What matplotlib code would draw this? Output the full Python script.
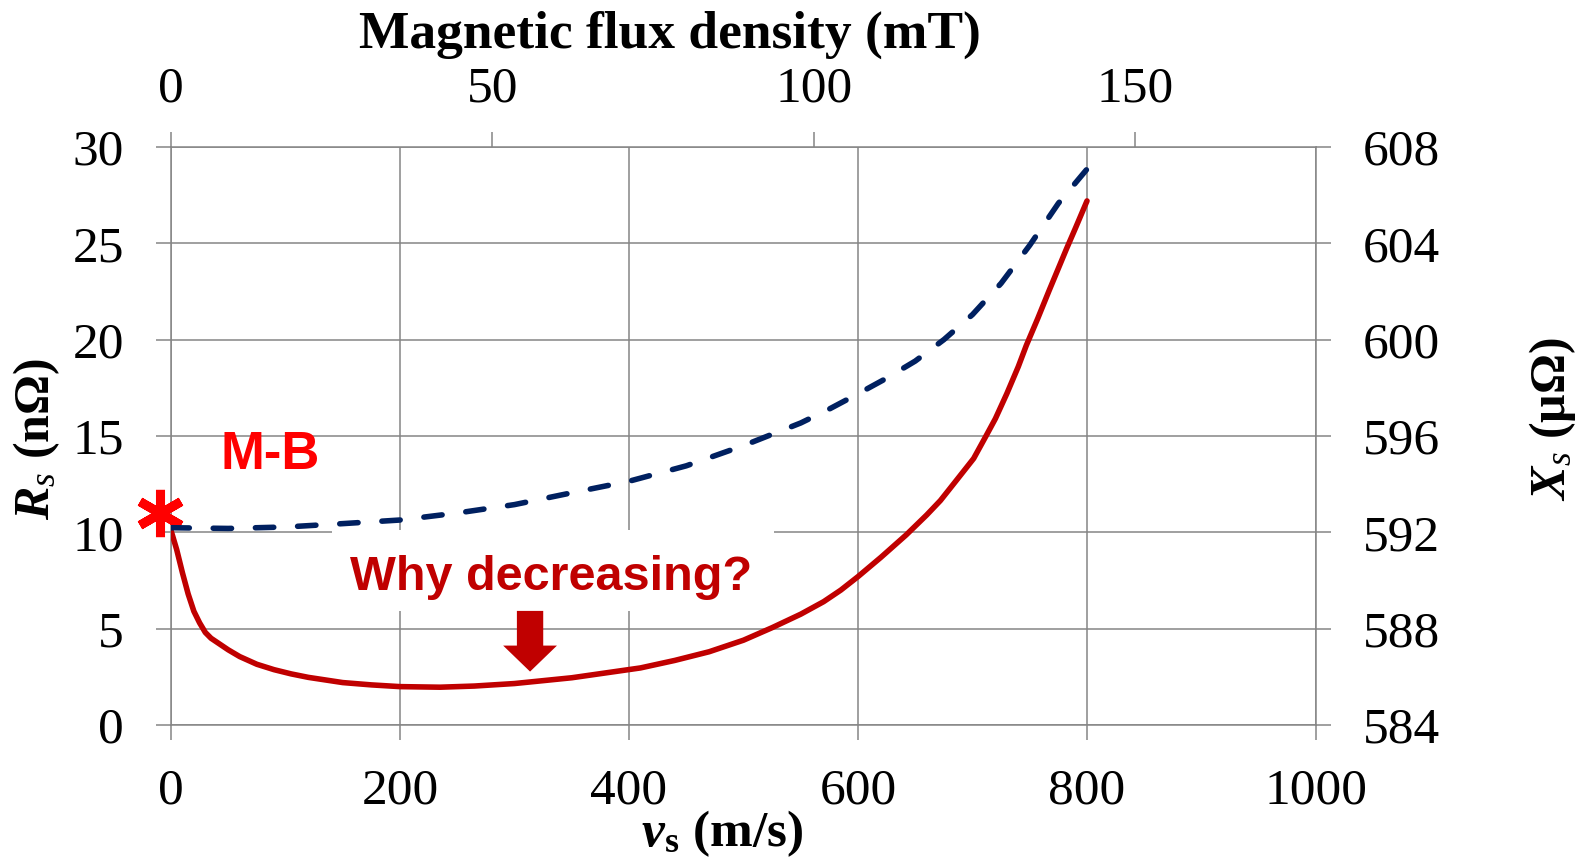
import matplotlib
matplotlib.use("Agg")
import matplotlib.pyplot as plt
from matplotlib.patches import Rectangle

plt.rcParams['font.family'] = ['Liberation Serif', 'DejaVu Serif']
plt.rcParams['mathtext.fontset'] = 'custom'
plt.rcParams['mathtext.rm'] = 'Liberation Serif'
plt.rcParams['mathtext.it'] = 'Liberation Serif:italic'
plt.rcParams['mathtext.bf'] = 'Liberation Serif:bold'
try:
    plt.rcParams['mathtext.bfit'] = 'Liberation Serif:italic:bold'
except KeyError:
    pass

# data
# Rs (nOhm) vs surface velocity v_s (m/s), red solid line
rs_v = [0, 5, 10, 15, 20, 25, 30, 35, 40, 50, 60, 75, 90, 105, 120, 150, 175,
        200, 235, 265, 300, 320, 350, 370, 410, 440, 470, 500, 525, 550, 570,
        585, 600, 620, 642, 660, 672, 686, 701, 712, 720, 730, 740, 747, 757,
        767, 775, 782, 790, 800]
rs_val = [10.1, 9.1, 7.9, 6.8, 5.9, 5.3, 4.8, 4.5, 4.3, 3.9, 3.55, 3.15, 2.87,
          2.65, 2.47, 2.2, 2.08, 1.99, 1.96, 2.02, 2.15, 2.27, 2.45, 2.62, 2.96,
          3.35, 3.8, 4.4, 5.05, 5.75, 6.4, 7.0, 7.7, 8.7, 9.86, 10.9, 11.65,
          12.7, 13.83, 15.02, 15.9, 17.2, 18.6, 19.7, 21.1, 22.56, 23.7, 24.7,
          25.8, 27.2]
# Xs (uOhm) vs v_s, blue dashed line
xs_v = [0, 50, 100, 150, 200, 250, 300, 350, 400, 450, 500, 550, 575, 600,
        625, 650, 675, 700, 725, 750, 775, 800]
xs_val = [592.19, 592.16, 592.22, 592.36, 592.51, 592.8, 593.15, 593.64,
          594.12, 594.76, 595.6, 596.54, 597.12, 597.75, 598.4, 599.11, 600.0,
          601.04, 602.34, 603.92, 605.66, 607.08]
# M-B reference point (asterisk)
mb_v, mb_rs = -10, 11.0

v_ticks = [0, 200, 400, 600, 800, 1000]
rs_ticks = [0, 5, 10, 15, 20, 25, 30]
xs_ticks = [584, 588, 592, 596, 600, 604, 608]
b_ticks = [0, 50, 100, 150]
b_per_v = 150 / 842.0   # mT per m/s on the top axis

GRAY = '#858585'
RED = '#C00000'
BLUE = '#002060'
FS = 37

fig = plt.figure(figsize=(15.89, 8.61), dpi=100)
ax = fig.add_axes([0.1076, 0.158, 0.7206, 0.6713])

ax.set_xlim(0, 1000)
ax.set_ylim(0, 30)
ax.set_xticks(v_ticks)
ax.set_yticks(rs_ticks)
ax.set_axisbelow(True)
ax.grid(True, color=GRAY, lw=1.1)
for s in ax.spines.values():
    s.set_color(GRAY)
    s.set_linewidth(1.1)
ax.tick_params(axis='x', direction='out', length=11, width=1.1, color=GRAY,
               labelsize=FS, pad=20)
ax.tick_params(axis='y', direction='out', length=11, width=1.1, color=GRAY,
               labelsize=FS, pad=23)

# white box behind the annotation
ax.add_patch(Rectangle((141, 5.92), 386, 4.18, fc='white', ec='none', zorder=1))

ax.plot(rs_v, rs_val, color=RED, lw=4.0, zorder=3, solid_capstyle='round',
        solid_joinstyle='round')
ax.plot([mb_v], [mb_rs], marker=(6, 2, 0), ms=34, mew=6.5, color='#FF0000',
        clip_on=False, zorder=5)

ax.text(86.5, 13.3, 'M-B', color='#FF0000', fontsize=38, fontweight='bold',
        family='Liberation Sans', ha='center', va='baseline')
ax.text(332, 7.0, 'Why decreasing?', color=RED, fontsize=35, fontweight='bold',
        family='Liberation Sans', ha='center', va='baseline', zorder=4)
ax.arrow(313.6, 5.92, 0, -3.15, width=23, head_width=47, head_length=1.35,
         length_includes_head=True, fc=RED, ec='none', zorder=4)

# right axis: Xs
ax2 = ax.twinx()
ax2.set_ylim(584, 608)
ax2.set_yticks(xs_ticks)
for s in ax2.spines.values():
    s.set_visible(False)
ax2.tick_params(axis='y', direction='out', length=11, width=1.1, color=GRAY,
                labelsize=FS, pad=23)
ax2.plot(xs_v, xs_val, color=BLUE, lw=4.0, dashes=(3.3, 4.3),
         dash_capstyle='round', zorder=3)

# top axis: magnetic flux density
ax3 = ax.twiny()
ax3.set_xlim(0, 1000 * b_per_v)
ax3.set_xticks(b_ticks)
for s in ax3.spines.values():
    s.set_visible(False)
ax3.tick_params(axis='x', direction='out', length=11, width=1.1, color=GRAY,
                labelsize=FS, pad=14)

fig.text(0.4217, 0.9445, 'Magnetic flux density (mT)', fontsize=38.5,
         fontweight='bold', ha='center', va='baseline')
fig.text(0.4544, 0.0174, r'$\mathbfit{v}_{\mathbf{s}}$ (m/s)', fontsize=37,
         fontweight='bold', ha='center', va='baseline')
fig.text(0.0230, 0.490, r'$\mathbfit{R}_{\mathit{s}}$ (nΩ)', fontsize=36,
         fontweight='bold', rotation=90, ha='center', va='center')
fig.text(0.9773, 0.5134, r'$\mathbfit{X}_{\mathit{s}}$ (μΩ)', fontsize=36,
         fontweight='bold', rotation=90, ha='center', va='center')

fig.savefig('out.png', dpi=100)
